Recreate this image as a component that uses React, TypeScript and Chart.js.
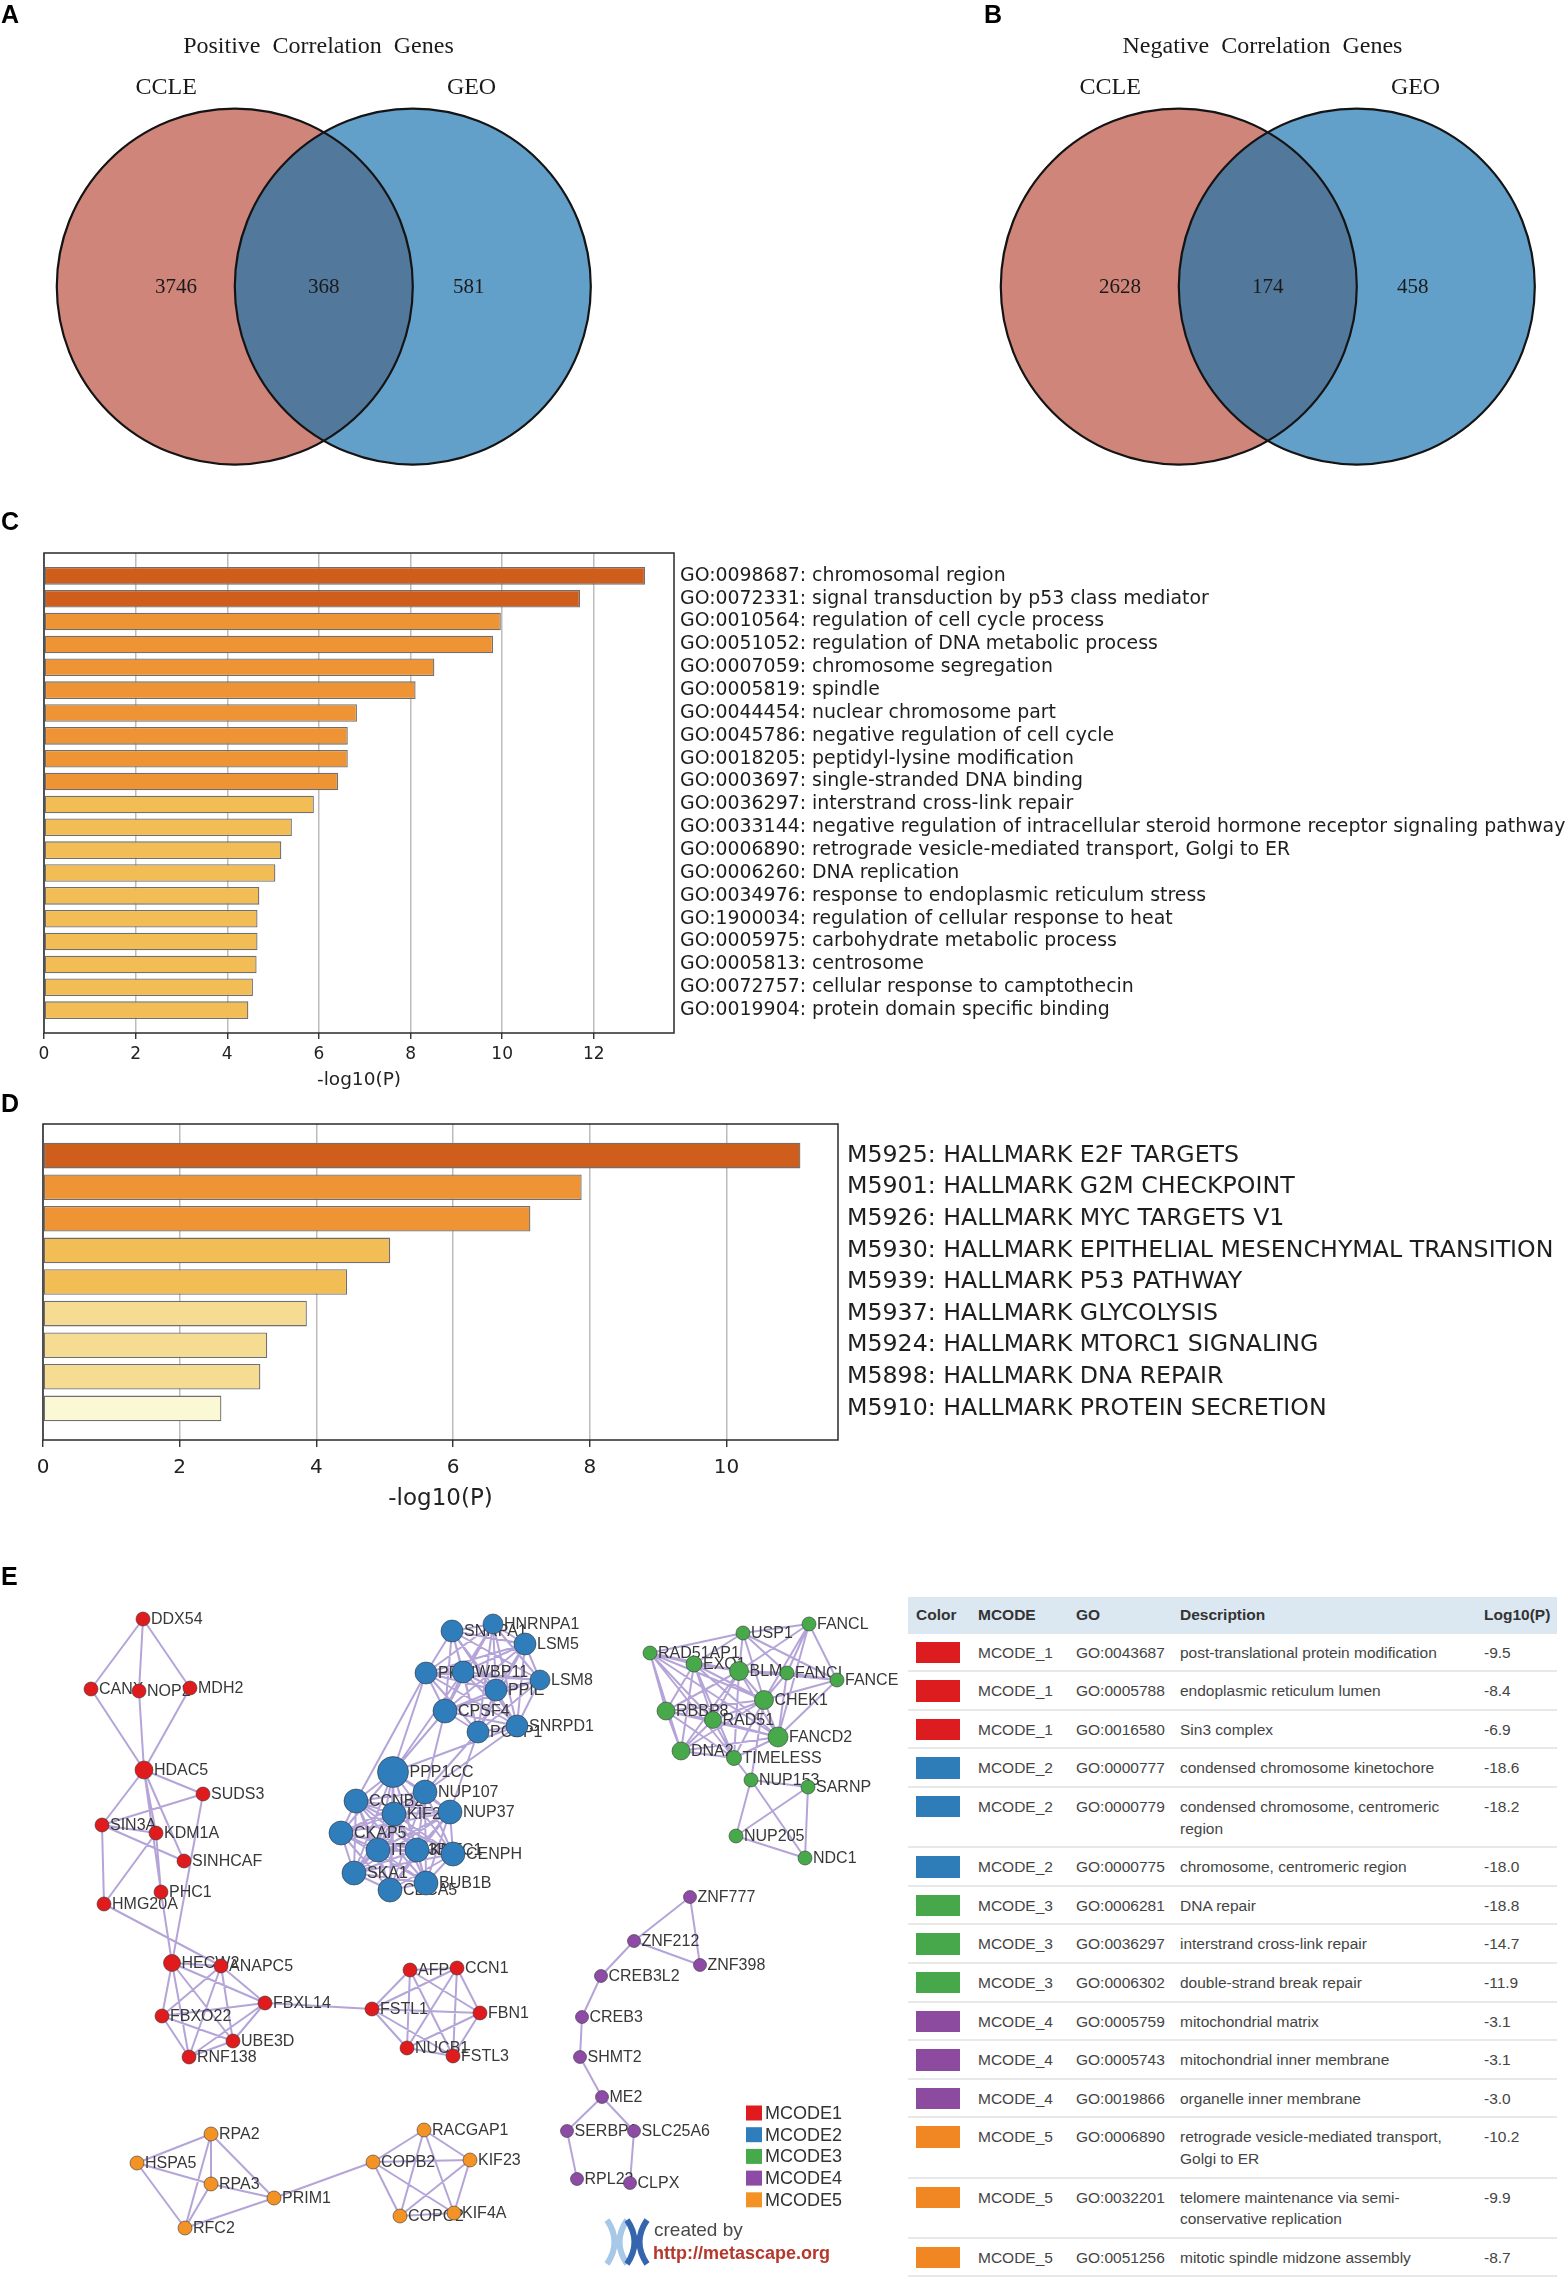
import React, { useEffect, useRef } from 'react';
import { Chart, registerables } from 'chart.js';

Chart.register(...registerables);

// ================= Panel A / B : Venn diagrams =================
const VENN_SET_NAMES = ['CCLE', 'GEO'];
const VENN_A_TITLE = 'Positive  Correlation  Genes';
const VENN_A_COUNTS = [3746, 368, 581]; // CCLE only, both, GEO only
const VENN_B_TITLE = 'Negative  Correlation  Genes';
const VENN_B_COUNTS = [2628, 174, 458];

// ================= Panel C : GO enrichment =================
const GO_TERMS = [
  'GO:0098687: chromosomal region',
  'GO:0072331: signal transduction by p53 class mediator',
  'GO:0010564: regulation of cell cycle process',
  'GO:0051052: regulation of DNA metabolic process',
  'GO:0007059: chromosome segregation',
  'GO:0005819: spindle',
  'GO:0044454: nuclear chromosome part',
  'GO:0045786: negative regulation of cell cycle',
  'GO:0018205: peptidyl-lysine modification',
  'GO:0003697: single-stranded DNA binding',
  'GO:0036297: interstrand cross-link repair',
  'GO:0033144: negative regulation of intracellular steroid hormone receptor signaling pathway',
  'GO:0006890: retrograde vesicle-mediated transport, Golgi to ER',
  'GO:0006260: DNA replication',
  'GO:0034976: response to endoplasmic reticulum stress',
  'GO:1900034: regulation of cellular response to heat',
  'GO:0005975: carbohydrate metabolic process',
  'GO:0005813: centrosome',
  'GO:0072757: cellular response to camptothecin',
  'GO:0019904: protein domain specific binding',
];
const GO_LOGP = [13.12, 11.7, 9.97, 9.8, 8.52, 8.11, 6.83, 6.63, 6.63, 6.42, 5.89, 5.41, 5.18, 5.05, 4.7, 4.66, 4.66, 4.64, 4.56, 4.46];
const DARK = '#cf5d1b';
const ORANGE = '#ef9435';
const YELLOW = '#f3bd55';
const LIGHT = '#f6dc92';
const PALE = '#fbf8d6';
const GO_COLORS = [DARK, DARK, ORANGE, ORANGE, ORANGE, ORANGE, ORANGE, ORANGE, ORANGE, ORANGE,
  YELLOW, YELLOW, YELLOW, YELLOW, YELLOW, YELLOW, YELLOW, YELLOW, YELLOW, YELLOW];

// ================= Panel D : Hallmark enrichment =================
const HALLMARK_TERMS = [
  'M5925: HALLMARK E2F TARGETS',
  'M5901: HALLMARK G2M CHECKPOINT',
  'M5926: HALLMARK MYC TARGETS V1',
  'M5930: HALLMARK EPITHELIAL MESENCHYMAL TRANSITION',
  'M5939: HALLMARK P53 PATHWAY',
  'M5937: HALLMARK GLYCOLYSIS',
  'M5924: HALLMARK MTORC1 SIGNALING',
  'M5898: HALLMARK DNA REPAIR',
  'M5910: HALLMARK PROTEIN SECRETION',
];
const HALLMARK_LOGP = [11.08, 7.88, 7.13, 5.08, 4.45, 3.86, 3.28, 3.18, 2.61];
const HALLMARK_COLORS = [DARK, ORANGE, ORANGE, YELLOW, YELLOW, LIGHT, LIGHT, LIGHT, PALE];

// ================= Panel E : MCODE network =================
type Node = [string, number, number, number]; // name, x, y (layout px), radius
const MCODE_NAMES = ['MCODE1', 'MCODE2', 'MCODE3', 'MCODE4', 'MCODE5'];
const MCODE_COLORS = ['#e01b1d', '#2f7dba', '#48a94b', '#8d4ba5', '#f39325'];

const MCODE1_NODES: Node[] = [
  ['DDX54', 143, 1619, 7], ['CANX', 91, 1689, 7], ['NOP2', 139, 1691, 7], ['MDH2', 190, 1688, 7],
  ['HDAC5', 144, 1770, 9], ['SUDS3', 203, 1794, 7], ['SIN3A', 102, 1825, 7], ['KDM1A', 156, 1833, 7],
  ['SINHCAF', 184, 1861, 7], ['PHC1', 161, 1892, 7], ['HMG20A', 104, 1904, 7], ['HECW2', 172, 1963, 8.5],
  ['ANAPC5', 221, 1966, 7], ['FBXL14', 265, 2003, 7], ['FBXO22', 162, 2016, 7], ['UBE3D', 233, 2041, 7],
  ['RNF138', 189, 2057, 7], ['AFP', 410, 1970, 7], ['CCN1', 457, 1968, 7], ['FSTL1', 372, 2009, 7],
  ['FBN1', 480, 2013, 7], ['NUCB1', 407, 2048, 7], ['FSTL3', 453, 2056, 7],
];
const MCODE1_LINKS = [
  'DDX54:CANX,NOP2,MDH2', 'HDAC5:CANX,NOP2,MDH2,SUDS3,SIN3A,KDM1A,SINHCAF,PHC1',
  'SIN3A:SUDS3,KDM1A,SINHCAF,HMG20A', 'KDM1A:HMG20A,PHC1', 'SUDS3:HECW2', 'PHC1:HECW2',
  'HMG20A:ANAPC5', 'FBXL14:FSTL1',
];
const MCODE1_CLIQUES = [
  ['HECW2', 'ANAPC5', 'FBXL14', 'FBXO22', 'UBE3D', 'RNF138'],
  ['AFP', 'CCN1', 'FSTL1', 'FBN1', 'NUCB1', 'FSTL3'],
];

const MCODE2_NODES: Node[] = [
  ['SNRPA1', 452, 1631, 11], ['HNRNPA1', 493, 1624, 10], ['LSM5', 525, 1644, 11], ['PPIH', 426, 1673, 11],
  ['WBP11', 463, 1672, 11], ['LSM8', 540, 1680, 10], ['PPIE', 496, 1690, 11], ['CPSF4', 445, 1711, 12],
  ['PCBP1', 478, 1732, 11], ['SNRPD1', 517, 1726, 11], ['PPP1CC', 393, 1772, 15.5], ['NUP107', 425, 1792, 12],
  ['CCNB2', 356, 1801, 12], ['KIF2C', 394, 1814, 12], ['NUP37', 450, 1812, 12], ['CKAP5', 341, 1833, 12],
  ['ITGB3BP', 378, 1850, 12], ['KNTC1', 417, 1850, 12], ['CENPH', 453, 1854, 12], ['SKA1', 354, 1873, 12],
  ['CDCA5', 390, 1890, 12], ['BUB1B', 426, 1883, 12],
];
const MCODE2_LINKS = ['PPP1CC:PPIH,CPSF4,WBP11,SNRPD1', 'NUP107:CPSF4,SNRPD1,PCBP1', 'CCNB2:PPIH', 'NUP37:PCBP1'];
const MCODE2_CLIQUES = [
  ['SNRPA1', 'HNRNPA1', 'LSM5', 'PPIH', 'WBP11', 'LSM8', 'PPIE', 'CPSF4', 'PCBP1', 'SNRPD1'],
  ['PPP1CC', 'NUP107', 'CCNB2', 'KIF2C', 'NUP37', 'CKAP5', 'ITGB3BP', 'KNTC1', 'CENPH', 'SKA1', 'CDCA5', 'BUB1B'],
];

const MCODE3_NODES: Node[] = [
  ['USP1', 743, 1633, 7], ['FANCL', 809, 1624, 7], ['RAD51AP1', 650, 1653, 7], ['EXO1', 694, 1664, 8],
  ['BLM', 739, 1671, 9.5], ['FANCI', 787, 1673, 7], ['FANCE', 837, 1680, 7], ['CHEK1', 764, 1700, 9.5],
  ['RBBP8', 666, 1711, 9], ['RAD51', 713, 1720, 8.5], ['FANCD2', 778, 1737, 10], ['DNA2', 681, 1751, 9],
  ['TIMELESS', 734, 1758, 7.5], ['NUP153', 751, 1780, 7], ['SARNP', 808, 1787, 7], ['NUP205', 736, 1836, 7],
  ['NDC1', 805, 1858, 7],
];
const MCODE3_LINKS = ['FANCD2:FANCI,FANCE,FANCL', 'USP1:RAD51AP1,EXO1', 'TIMELESS:NUP153', 'CHEK1:NUP153'];
const MCODE3_CLIQUES = [
  ['USP1', 'FANCL', 'FANCI', 'FANCE', 'BLM', 'CHEK1'],
  ['RAD51AP1', 'EXO1', 'BLM', 'RBBP8', 'RAD51', 'DNA2', 'CHEK1', 'TIMELESS', 'FANCD2'],
  ['NUP153', 'SARNP', 'NUP205', 'NDC1'],
];

const MCODE4_NODES: Node[] = [
  ['ZNF777', 690, 1897, 6.5], ['ZNF212', 634, 1941, 6.5], ['ZNF398', 700, 1965, 6.5], ['CREB3L2', 601, 1976, 6.5],
  ['CREB3', 582, 2017, 6.5], ['SHMT2', 580, 2057, 6.5], ['ME2', 602, 2097, 6.5], ['SERBP1', 567, 2131, 6.5],
  ['SLC25A6', 634, 2131, 6.5], ['RPL22', 577, 2179, 6.5], ['CLPX', 630, 2183, 6.5],
];
const MCODE4_LINKS = [
  'ZNF777:ZNF212,ZNF398', 'ZNF212:ZNF398,CREB3L2', 'CREB3L2:CREB3', 'CREB3:SHMT2', 'SHMT2:ME2',
  'ME2:SERBP1,SLC25A6', 'SERBP1:RPL22', 'SLC25A6:CLPX',
];
const MCODE4_CLIQUES: string[][] = [];

const MCODE5_NODES: Node[] = [
  ['RPA2', 211, 2134, 7], ['HSPA5', 137, 2163, 7], ['RPA3', 211, 2184, 7], ['PRIM1', 274, 2198, 7],
  ['RFC2', 185, 2228, 7], ['RACGAP1', 424, 2130, 7], ['COPB2', 373, 2162, 7], ['KIF23', 470, 2160, 7],
  ['COPG2', 400, 2216, 7], ['KIF4A', 454, 2213, 7],
];
const MCODE5_LINKS = ['PRIM1:RPA2,RPA3,RFC2,COPB2'];
const MCODE5_CLIQUES = [
  ['RPA2', 'HSPA5', 'RPA3', 'RFC2'],
  ['RACGAP1', 'COPB2', 'KIF23', 'COPG2', 'KIF4A'],
];

const CLUSTERS = [
  { nodes: MCODE1_NODES, links: MCODE1_LINKS, cliques: MCODE1_CLIQUES },
  { nodes: MCODE2_NODES, links: MCODE2_LINKS, cliques: MCODE2_CLIQUES },
  { nodes: MCODE3_NODES, links: MCODE3_LINKS, cliques: MCODE3_CLIQUES },
  { nodes: MCODE4_NODES, links: MCODE4_LINKS, cliques: MCODE4_CLIQUES },
  { nodes: MCODE5_NODES, links: MCODE5_LINKS, cliques: MCODE5_CLIQUES },
];

// ================= Panel E : MCODE table =================
const TABLE_HEADERS = ['Color', 'MCODE', 'GO', 'Description', 'Log10(P)'];
const TABLE_MCODE = [1, 1, 1, 2, 2, 2, 3, 3, 3, 4, 4, 4, 5, 5, 5];
const TABLE_GO = [
  'GO:0043687', 'GO:0005788', 'GO:0016580', 'GO:0000777', 'GO:0000779', 'GO:0000775', 'GO:0006281', 'GO:0036297',
  'GO:0006302', 'GO:0005759', 'GO:0005743', 'GO:0019866', 'GO:0006890', 'GO:0032201', 'GO:0051256',
];
const TABLE_DESC = [
  'post-translational protein modification', 'endoplasmic reticulum lumen', 'Sin3 complex',
  'condensed chromosome kinetochore', 'condensed chromosome, centromeric region', 'chromosome, centromeric region',
  'DNA repair', 'interstrand cross-link repair', 'double-strand break repair', 'mitochondrial matrix',
  'mitochondrial inner membrane', 'organelle inner membrane', 'retrograde vesicle-mediated transport, Golgi to ER',
  'telomere maintenance via semi-conservative replication', 'mitotic spindle midzone assembly',
];
const TABLE_LOGP = [-9.5, -8.4, -6.9, -18.6, -18.2, -18.0, -18.8, -14.7, -11.9, -3.1, -3.1, -3.0, -10.2, -9.9, -8.7];
const TABLE_SWATCH = ['#dd1c1f', '#2f7db8', '#47a84b', '#8c4b9f', '#f08723'];

// ================= helpers =================
const DV = '"DejaVu Sans", sans-serif';
const SANS = '"Liberation Sans", Arial, sans-serif';
const SERIF = '"Liberation Serif", "Times New Roman", serif';

// Venn geometry (unit circles)
const VENN_RADIUS = 1;
const VENN_HALF_GAP = 0.5;
const VENN_REGION_X = [-0.83, 0, 0.815];
const VENN_NAME_X = [-0.885, 0.83];
const VENN_NAME_Y = 1.115;
const VENN_TITLE_X = -0.03;
const VENN_TITLE_Y = 1.345;

function vennPlugin(title: string) {
  return {
    id: 'venn',
    beforeDatasetsDraw(chart: any) {
      const { ctx } = chart;
      const sx = chart.scales.x;
      const sy = chart.scales.y;
      const r = sx.getPixelForValue(VENN_RADIUS) - sx.getPixelForValue(0);
      const cy = sy.getPixelForValue(0);
      const cl = sx.getPixelForValue(-VENN_HALF_GAP);
      const cr = sx.getPixelForValue(VENN_HALF_GAP);
      const circ = (cx: number) => { ctx.beginPath(); ctx.arc(cx, cy, r, 0, Math.PI * 2); };
      ctx.save();
      circ(cl); ctx.fillStyle = '#d0857a'; ctx.fill();
      circ(cr); ctx.fillStyle = '#63a0c9'; ctx.fill();
      ctx.save(); circ(cl); ctx.clip(); circ(cr); ctx.fillStyle = '#52799b'; ctx.fill(); ctx.restore();
      ctx.lineWidth = 2.2; ctx.strokeStyle = '#141414';
      circ(cl); ctx.stroke();
      circ(cr); ctx.stroke();
      ctx.fillStyle = '#1a1a1a';
      ctx.textAlign = 'center';
      ctx.textBaseline = 'middle';
      ctx.font = `24px ${SERIF}`;
      ctx.fillText(title, sx.getPixelForValue(VENN_TITLE_X), sy.getPixelForValue(VENN_TITLE_Y));
      VENN_SET_NAMES.forEach((n, i) => ctx.fillText(n, sx.getPixelForValue(VENN_NAME_X[i]), sy.getPixelForValue(VENN_NAME_Y)));
      ctx.restore();
    },
    afterDatasetsDraw(chart: any) {
      const { ctx } = chart;
      const meta = chart.getDatasetMeta(0);
      const counts = chart.data.datasets[0].counts;
      ctx.save();
      ctx.fillStyle = '#1a1a1a';
      ctx.textAlign = 'center';
      ctx.textBaseline = 'middle';
      ctx.font = `21px ${SERIF}`;
      meta.data.forEach((pt: any, i: number) => ctx.fillText(String(counts[i]), pt.x, pt.y + 1));
      ctx.restore();
    },
  };
}

function makeVenn(canvas: HTMLCanvasElement, title: string, counts: number[]) {
  return new Chart(canvas, {
    type: 'scatter',
    data: {
      datasets: [{
        counts,
        data: VENN_REGION_X.map((x) => ({ x, y: 0 })),
        pointRadius: 0,
      } as any],
    },
    options: {
      animation: false,
      responsive: false,
      events: [],
      layout: { padding: 0, autoPadding: false },
      plugins: { legend: { display: false }, tooltip: { enabled: false } },
      scales: {
        x: { type: 'linear', display: false, min: -1.819, max: 1.664 },
        y: { type: 'linear', display: false, min: -1.087, max: 1.61 },
      },
    } as any,
    plugins: [vennPlugin(title)],
  });
}

const boxPlugin = {
  id: 'box',
  afterDraw(chart: any) {
    const { ctx, chartArea: a } = chart;
    ctx.save();
    ctx.strokeStyle = '#2a2a2a';
    ctx.lineWidth = 1.5;
    ctx.strokeRect(a.left, a.top, a.right - a.left, a.bottom - a.top);
    ctx.restore();
  },
};

function makeBarChart(canvas: HTMLCanvasElement, p: any) {
  return new Chart(canvas, {
    type: 'bar',
    data: {
      datasets: [{
        data: p.values.map((v: number, i: number) => ({ x: v, y: i })),
        backgroundColor: p.colors,
        borderColor: '#6f6f6f',
        borderWidth: 1.3,
        borderSkipped: false,
        categoryPercentage: 1,
        barPercentage: p.barPct,
      } as any],
    },
    options: {
      indexAxis: 'y',
      animation: false,
      responsive: false,
      events: [],
      layout: { padding: { left: p.padLeft, top: p.padTop, right: 0, bottom: 0 }, autoPadding: false },
      plugins: { legend: { display: false }, tooltip: { enabled: false } },
      scales: {
        x: {
          type: 'linear', position: 'bottom', min: 0, max: p.xMax,
          ticks: { stepSize: 2, includeBounds: false, maxRotation: 0, padding: p.tickPad, color: '#222', font: { family: DV, size: p.tickFont } },
          grid: { color: '#bcbcbc', lineWidth: 1.5, tickColor: '#222', tickLength: p.tickLen, tickWidth: 1.3 },
          border: { display: false },
          title: { display: true, text: '-log10(P)', color: '#222', font: { family: DV, size: p.titleFont }, padding: { top: 0, bottom: p.titlePad } },
          afterFit: (s: any) => { s.height = p.xAxisHeight; },
        },
        y: {
          type: 'linear', position: 'right', min: -1, max: p.labels.length, reverse: true, offset: false,
          ticks: {
            stepSize: 1, autoSkip: false, includeBounds: false, padding: p.labelPad, color: '#1e1e1e',
            font: { family: DV, size: p.labelFont },
            callback: (v: any) => p.labels[v] ?? '',
          },
          grid: { display: false, drawTicks: false, offset: false },
          border: { display: false },
          afterFit: (s: any) => { s.width = p.rightWidth; },
        },
      },
    } as any,
    plugins: [boxPlugin],
  });
}

function buildEdges() {
  const pos: Record<string, [number, number]> = {};
  CLUSTERS.forEach((c) => c.nodes.forEach((n) => { pos[n[0]] = [n[1], n[2]]; }));
  const pairs: [string, string][] = [];
  CLUSTERS.forEach((c) => {
    c.links.forEach((l) => {
      const [a, rest] = l.split(':');
      rest.split(',').forEach((b) => pairs.push([a, b]));
    });
    c.cliques.forEach((g) => {
      for (let i = 0; i < g.length; i++) for (let j = i + 1; j < g.length; j++) pairs.push([g[i], g[j]]);
    });
  });
  const pts: any[] = [];
  pairs.forEach(([a, b]) => {
    if (!pos[a] || !pos[b]) return;
    pts.push({ x: pos[a][0], y: pos[a][1] }, { x: pos[b][0], y: pos[b][1] }, { x: null, y: null });
  });
  return pts;
}

const netLabelPlugin = {
  id: 'netLabels',
  beforeDatasetDraw(chart: any, args: any) {
    const ds = chart.data.datasets[args.index];
    if (!ds.nodeNames) return;
    const { ctx } = chart;
    const meta = args.meta;
    ctx.save();
    ctx.font = `16px ${SANS}`;
    ctx.fillStyle = '#383838';
    ctx.textAlign = 'left';
    ctx.textBaseline = 'middle';
    meta.data.forEach((pt: any, i: number) => {
      ctx.fillText(ds.nodeNames[i], pt.x + ds.pointRadius[i] + 1, pt.y + 1);
    });
    ctx.restore();
  },
  afterDraw(chart: any) {
    const { ctx } = chart;
    const sx = chart.scales.x;
    const sy = chart.scales.y;
    ctx.save();
    // legend
    ctx.font = `18px ${SANS}`;
    ctx.textBaseline = 'middle';
    ctx.textAlign = 'left';
    MCODE_NAMES.forEach((n, i) => {
      const y = sy.getPixelForValue(2113 + i * 21.7);
      const x = sx.getPixelForValue(746);
      ctx.fillStyle = MCODE_COLORS[i];
      ctx.fillRect(x, y - 7.5, 16, 15);
      ctx.fillStyle = '#333';
      ctx.fillText(n, sx.getPixelForValue(765), y + 1);
    });
    // metascape logo
    const drawMark = (x0: number, color: string) => {
      const top = sy.getPixelForValue(2220);
      const bot = sy.getPixelForValue(2264);
      const mid = (top + bot) / 2;
      const w = 20;
      ctx.strokeStyle = color;
      ctx.lineWidth = 6;
      ctx.lineCap = 'butt';
      ctx.beginPath();
      ctx.moveTo(x0, top); ctx.quadraticCurveTo(x0 + w * 0.75, mid, x0, bot);
      ctx.moveTo(x0 + w, top); ctx.quadraticCurveTo(x0 + w * 0.25, mid, x0 + w, bot);
      ctx.stroke();
    };
    drawMark(sx.getPixelForValue(607), '#a8c8e8');
    drawMark(sx.getPixelForValue(627), '#3566ad');
    ctx.textBaseline = 'middle';
    ctx.fillStyle = '#4a4a4a';
    ctx.font = `19px ${SANS}`;
    ctx.fillText('created by', sx.getPixelForValue(654), sy.getPixelForValue(2231));
    ctx.fillStyle = '#b4382c';
    ctx.font = `bold 18px ${SANS}`;
    ctx.fillText('http://metascape.org', sx.getPixelForValue(653), sy.getPixelForValue(2254));
    ctx.restore();
  },
};

function makeNetwork(canvas: HTMLCanvasElement) {
  const nodeSets = CLUSTERS.map((c, ci) => ({
    type: 'scatter',
    label: MCODE_NAMES[ci],
    nodeNames: c.nodes.map((n) => n[0]),
    data: c.nodes.map((n) => ({ x: n[1], y: n[2] })),
    pointRadius: c.nodes.map((n) => n[3]),
    pointBackgroundColor: MCODE_COLORS[ci],
    pointBorderColor: 'rgba(45,45,45,0.55)',
    pointBorderWidth: 1,
    order: 1,
  }));
  return new Chart(canvas, {
    type: 'scatter',
    data: {
      datasets: [
        {
          type: 'line',
          data: buildEdges(),
          borderColor: 'rgba(140,115,195,0.65)',
          borderWidth: 2,
          pointRadius: 0,
          spanGaps: false,
          showLine: true,
          tension: 0,
          order: 5,
        } as any,
        ...(nodeSets as any[]),
      ],
    },
    options: {
      animation: false,
      responsive: false,
      events: [],
      layout: { padding: 0, autoPadding: false },
      plugins: { legend: { display: false }, tooltip: { enabled: false } },
      scales: {
        x: { type: 'linear', display: false, min: 0, max: 900 },
        y: { type: 'linear', display: false, min: 1560, max: 2286, reverse: true },
      },
    } as any,
    plugins: [netLabelPlugin],
  });
}

function ChartCanvas({ make, left, top, width, height }: any) {
  const ref = useRef<HTMLCanvasElement>(null);
  useEffect(() => {
    const chart = make(ref.current as HTMLCanvasElement);
    return () => chart.destroy();
  }, []);
  return (
    <canvas
      ref={ref}
      width={width}
      height={height}
      style={{ position: 'absolute', left, top, width, height }}
    />
  );
}

function PanelLabel({ text, left, top }: any) {
  return (
    <div style={{ position: 'absolute', left, top, font: `bold 25px ${SANS}`, lineHeight: '25px', color: '#000' }}>{text}</div>
  );
}

function McodeTable() {
  const td: any = { padding: '8px 8px 7px 8px', verticalAlign: 'top', borderBottom: '2px solid #e8e8e8', textAlign: 'left' };
  const widths = [62, 98, 104, 304, 81];
  return (
    <table
      style={{
        position: 'absolute', left: 908, top: 1597, width: 649, borderCollapse: 'collapse', tableLayout: 'fixed',
        font: `15.5px ${SANS}`, lineHeight: '21.6px', color: '#444',
      }}
    >
      <colgroup>
        {widths.map((w, i) => <col key={i} style={{ width: w }} />)}
      </colgroup>
      <thead>
        <tr style={{ background: '#dbe8f2' }}>
          {TABLE_HEADERS.map((h) => (
            <th key={h} style={{ padding: '7px 8px 8px 8px', textAlign: 'left', fontWeight: 'bold', color: '#333' }}>{h}</th>
          ))}
        </tr>
      </thead>
      <tbody>
        {TABLE_GO.map((go, i) => (
          <tr key={go}>
            <td style={td}>
              <div style={{ width: 44, height: 21.5, background: TABLE_SWATCH[TABLE_MCODE[i] - 1] }} />
            </td>
            <td style={td}>{`MCODE_${TABLE_MCODE[i]}`}</td>
            <td style={td}>{go}</td>
            <td style={td}>{TABLE_DESC[i]}</td>
            <td style={td}>{TABLE_LOGP[i].toFixed(1)}</td>
          </tr>
        ))}
      </tbody>
    </table>
  );
}

export default function App() {
  return (
    <div style={{ position: 'absolute', left: 0, top: 0, width: 1565, height: 2286, background: '#fff', overflow: 'hidden' }}>
      <ChartCanvas make={(c: HTMLCanvasElement) => makeVenn(c, VENN_A_TITLE, VENN_A_COUNTS)} left={0} top={0} width={620} height={480} />
      <ChartCanvas make={(c: HTMLCanvasElement) => makeVenn(c, VENN_B_TITLE, VENN_B_COUNTS)} left={944} top={0} width={620} height={480} />
      <ChartCanvas
        make={(c: HTMLCanvasElement) => makeBarChart(c, {
          labels: GO_TERMS, values: GO_LOGP, colors: GO_COLORS, xMax: 13.75,
          padTop: 23, padLeft: 44, rightWidth: 891, xAxisHeight: 60,
          tickFont: 17, titleFont: 18.5, tickLen: 6, tickPad: 5, titlePad: 2,
          labelFont: 18.9, labelPad: 6, barPct: 0.77,
        })}
        left={0} top={530} width={1565} height={563}
      />
      <ChartCanvas
        make={(c: HTMLCanvasElement) => makeBarChart(c, {
          labels: HALLMARK_TERMS, values: HALLMARK_LOGP, colors: HALLMARK_COLORS, xMax: 11.63,
          padTop: 29, padLeft: 43, rightWidth: 727, xAxisHeight: 79,
          tickFont: 20, titleFont: 23, tickLen: 7, tickPad: 9, titlePad: 6,
          labelFont: 23.7, labelPad: 9, barPct: 0.81,
        })}
        left={0} top={1095} width={1565} height={424}
      />
      <ChartCanvas make={makeNetwork} left={0} top={1560} width={900} height={726} />
      <McodeTable />
      <PanelLabel text="A" left={1} top={2} />
      <PanelLabel text="B" left={984} top={2} />
      <PanelLabel text="C" left={1} top={509} />
      <PanelLabel text="D" left={1} top={1091} />
      <PanelLabel text="E" left={1} top={1564} />
    </div>
  );
}
